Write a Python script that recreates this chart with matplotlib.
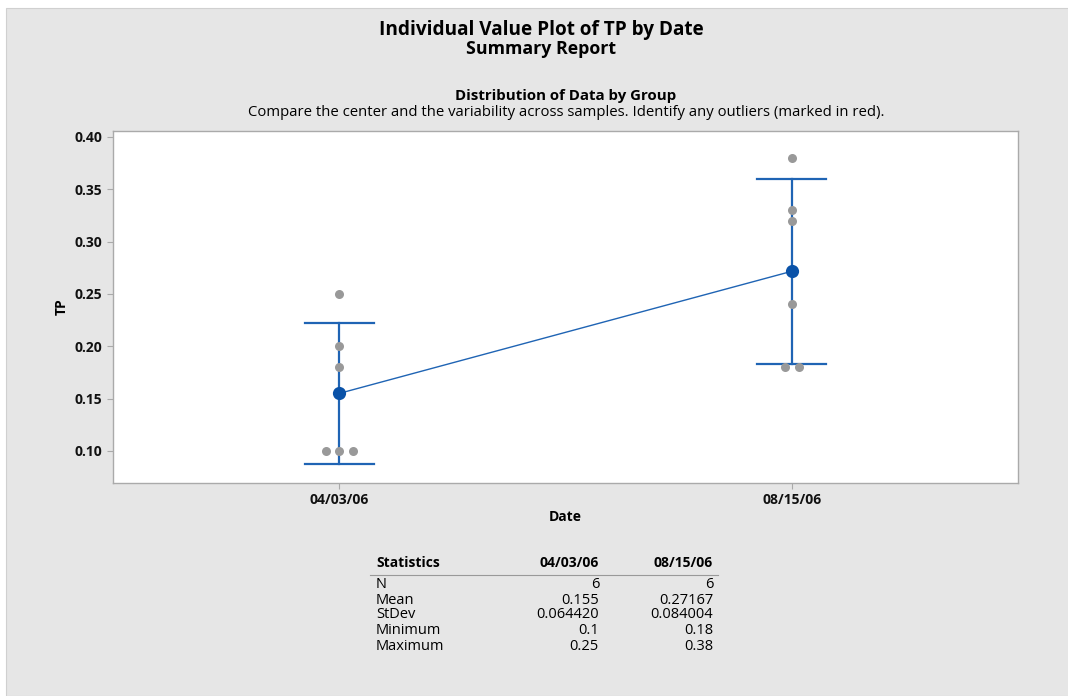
import matplotlib.pyplot as plt
import numpy as np
from matplotlib.patches import Rectangle

plt.rcParams['font.family'] = ['Open Sans', 'DejaVu Sans']

dates = ['04/03/06', '08/15/06']
tp_0403 = [0.10, 0.10, 0.10, 0.18, 0.20, 0.25]
tp_0815 = [0.18, 0.18, 0.24, 0.32, 0.33, 0.38]
# horizontal nudge for tied values (in category units)
jit_0403 = [-0.03, 0.0, 0.03, 0.0, 0.0, 0.0]
jit_0815 = [-0.015, 0.015, 0.0, 0.0, 0.0, 0.0]
t_crit = 2.5706  # t(0.975, df=5)

stat_names = ['N', 'Mean', 'StDev', 'Minimum', 'Maximum']
stat_0403 = ['6', '0.155', '0.064420', '0.1', '0.25']
stat_0815 = ['6', '0.27167', '0.084004', '0.18', '0.38']

W, H = 1068, 696
fig = plt.figure(figsize=(W / 100, H / 100), dpi=100)
fig.patch.set_facecolor('white')
fig.patches.append(Rectangle((6 / W, 0), 1, 1 - 8 / H, transform=fig.transFigure,
                             facecolor='#e6e6e6', edgecolor='#d0d0d0', lw=0.8, zorder=-10))

ax = fig.add_axes([113 / W, 1 - 483 / H, (1018 - 113) / W, (483 - 131) / H])
ax.set_facecolor('white')

groups = [tp_0403, tp_0815]
jits = [jit_0403, jit_0815]
means = []
for i, (vals, jit) in enumerate(zip(groups, jits)):
    x = i + 1
    v = np.array(vals)
    m = v.mean()
    se = v.std(ddof=1) / np.sqrt(len(v))
    lo, hi = m - t_crit * se, m + t_crit * se
    means.append(m)
    ax.plot([x, x], [lo, hi], color='#1f64b4', lw=1.6, zorder=2)
    for yy in (lo, hi):
        ax.plot([x - 0.076, x + 0.076], [yy, yy], color='#1f64b4', lw=1.6, zorder=2)
    ax.plot(x + np.array(jit), v, 'o', color='#999999', ms=6.5, mec='none', zorder=3)

ax.plot([1, 2], means, color='#1f64b4', lw=1, zorder=2)
ax.plot([1, 2], means, 'o', color='#0a52a8', ms=9.5, mec='none', zorder=4)

ax.set_xlim(0.5, 2.5)
ax.set_ylim(0.0694, 0.4057)
ax.set_xticks([1, 2])
ax.set_xticklabels(dates)
ax.set_yticks([0.10, 0.15, 0.20, 0.25, 0.30, 0.35, 0.40])
ax.set_yticklabels(['%.2f' % t for t in ax.get_yticks()])
for lab in ax.get_xticklabels() + ax.get_yticklabels():
    lab.set_fontweight('bold')
    lab.set_fontsize(10)
ax.tick_params(colors='#aaaaaa', labelcolor='#111111', length=4, width=0.8)
for s in ax.spines.values():
    s.set_color('#aaaaaa')
    s.set_linewidth(1)
ax.set_xlabel('Date', fontsize=10, fontweight='bold', labelpad=2)
ax.set_ylabel('TP', fontsize=10, fontweight='bold', labelpad=4)

fig.text(541 / W, 1 - 30 / H, 'Individual Value Plot of TP by Date', ha='center', va='center',
         fontsize=13.7, fontweight='bold')
fig.text(541 / W, 1 - 49 / H, 'Summary Report', ha='center', va='center',
         fontsize=12.8, fontweight='bold')
fig.text(566 / W, 1 - 96 / H, 'Distribution of Data by Group', ha='center', va='center',
         fontsize=10.8, fontweight='bold')
fig.text(566 / W, 1 - 113 / H,
         'Compare the center and the variability across samples. Identify any outliers (marked in red).',
         ha='center', va='center', fontsize=10.7)

# statistics table
fs = 10.5
fig.text(376 / W, 1 - 563 / H, 'Statistics', ha='left', va='center', fontsize=10, fontweight='bold')
fig.text(599 / W, 1 - 563 / H, dates[0], ha='right', va='center', fontsize=10, fontweight='bold')
fig.text(713 / W, 1 - 563 / H, dates[1], ha='right', va='center', fontsize=10, fontweight='bold')
fig.add_artist(plt.Line2D([370 / W, 718 / W], [1 - 575 / H, 1 - 575 / H], color='#999999', lw=0.8))
row_y = [584, 600, 614, 631, 646]
for name, a, b, yy in zip(stat_names, stat_0403, stat_0815, row_y):
    fig.text(376 / W, 1 - yy / H, name, ha='left', va='center', fontsize=fs)
    fig.text(599 / W, 1 - yy / H, a, ha='right', va='center', fontsize=fs)
    fig.text(713 / W, 1 - yy / H, b, ha='right', va='center', fontsize=fs)

fig.savefig('out.png', dpi=100)
